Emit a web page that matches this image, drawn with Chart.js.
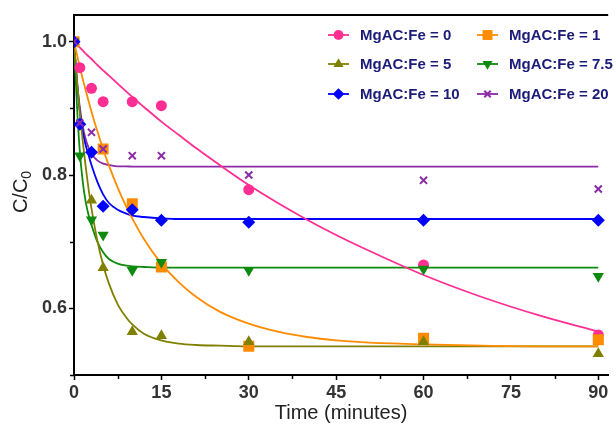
<!DOCTYPE html>
<html>
<head>
<meta charset="utf-8">
<script src="https://cdn.jsdelivr.net/npm/chart.js@4.4.0/dist/chart.umd.min.js"></script>
<style>
  html, body { margin: 0; padding: 0; background: #fff; }
  #wrap { width: 616px; height: 430px; }
</style>
</head>
<body>
<div id="wrap"><canvas id="chart" width="616" height="430"></canvas></div>
<script>
// ─── Measured points (C/C0 vs time) ───────────────────────────────────────────
const time = [0, 1, 3, 5, 10, 15, 30, 60, 90];
const fe0  = [1.0, 0.961, 0.930, 0.910, 0.910, 0.904, 0.778, 0.665, 0.560];
const fe1  = [1.0, null, null, 0.839, 0.757, 0.662, 0.543, 0.555, 0.553];
const fe5  = [1.0, null, 0.762, 0.661, 0.565, 0.559, 0.550, 0.550, 0.532];
const fe75 = [1.0, 0.829, 0.733, 0.710, 0.657, 0.669, 0.657, 0.659, 0.648];
const fe10 = [1.0, 0.876, 0.834, 0.753, 0.748, 0.732, 0.729, 0.732, 0.732];
const fe20 = [1.0, 0.878, 0.864, 0.839, 0.829, 0.829, 0.800, 0.792, 0.779];

// ─── Fitted curves ────────────────────────────────────────────────────────────
const fitTime = [0, 0.5, 1, 1.5, 2, 2.5, 3, 4, 5, 6, 7.5, 9, 10, 12, 15, 18, 21, 25, 30, 35, 40, 45, 50, 60, 70, 80, 90];
const fit0  = [1.000, 0.996, 0.991, 0.987, 0.982, 0.978, 0.974, 0.965, 0.957, 0.949, 0.937, 0.925, 0.917, 0.902, 0.880, 0.860, 0.840, 0.815, 0.785, 0.758, 0.733, 0.710, 0.689, 0.650, 0.617, 0.589, 0.565];
const fit1  = [1.000, 0.981, 0.962, 0.944, 0.927, 0.911, 0.895, 0.866, 0.839, 0.814, 0.781, 0.752, 0.735, 0.704, 0.667, 0.639, 0.617, 0.595, 0.577, 0.565, 0.557, 0.552, 0.549, 0.546, 0.544, 0.543, 0.543];
const fit5  = [1.000, 0.944, 0.894, 0.851, 0.813, 0.779, 0.750, 0.702, 0.665, 0.637, 0.606, 0.586, 0.576, 0.562, 0.552, 0.547, 0.545, 0.544, 0.543, 0.543, 0.543, 0.543, 0.543, 0.543, 0.543, 0.543, 0.543];
const fit75 = [1.000, 0.905, 0.835, 0.790, 0.760, 0.740, 0.725, 0.700, 0.684, 0.674, 0.667, 0.664, 0.663, 0.662, 0.661, 0.661, 0.661, 0.661, 0.661, 0.661, 0.661, 0.661, 0.661, 0.661, 0.661, 0.661, 0.661];
const fit10 = [1.000, 0.940, 0.895, 0.865, 0.845, 0.830, 0.815, 0.790, 0.771, 0.758, 0.748, 0.742, 0.739, 0.737, 0.735, 0.734, 0.734, 0.734, 0.734, 0.734, 0.734, 0.734, 0.734, 0.734, 0.734, 0.734, 0.734];
const fit20 = [1.000, 0.941, 0.901, 0.873, 0.854, 0.841, 0.832, 0.822, 0.817, 0.815, 0.813, 0.813, 0.8125, 0.8125, 0.8125, 0.8125, 0.8125, 0.8125, 0.8125, 0.8125, 0.8125, 0.8125, 0.8125, 0.8125, 0.8125, 0.8125, 0.8125];

// ─── Axes / labels ────────────────────────────────────────────────────────────
const xTicks = [0, 15, 30, 45, 60, 75, 90];
const xMinor = [7.5, 22.5, 37.5, 52.5, 67.5, 82.5];
const yTicks = [0.6, 0.8, 1.0];
const yMinor = [0.5, 0.7, 0.9];
const seriesNames = ['MgAC:Fe = 0', 'MgAC:Fe = 1', 'MgAC:Fe = 5', 'MgAC:Fe = 7.5', 'MgAC:Fe = 10', 'MgAC:Fe = 20'];

// ─── Styles ───────────────────────────────────────────────────────────────────
const styles = [
  { color: '#FF2E93', pointStyle: 'circle',   radius: 5.5, rotation: 0,   bw: 0 },
  { color: '#FF8C00', pointStyle: 'rect',     radius: 7.8, rotation: 0,   bw: 0 },
  { color: '#808000', pointStyle: 'triangle', radius: 6.5, rotation: 0,   bw: 0 },
  { color: '#0E8A0E', pointStyle: 'triangle', radius: 6.5, rotation: 180, bw: 0 },
  { color: '#0000FF', pointStyle: 'rectRot',  radius: 6.5, rotation: 0,   bw: 0 },
  { color: '#8B2BA6', pointStyle: 'crossRot', radius: 5,   rotation: 0,   bw: 2 },
];

const measured = [fe0, fe1, fe5, fe75, fe10, fe20];
const fits = [fit0, fit1, fit5, fit75, fit10, fit20];

const toXY = (xs, ys) => xs.map((x, i) => ({ x, y: ys[i] })).filter(p => p.y !== null);

const datasets = [];
measured.forEach((vals, i) => {
  const s = styles[i];
  datasets.push({
    label: seriesNames[i],
    data: toXY(time, vals),
    showLine: false,
    pointStyle: s.pointStyle,
    pointRadius: s.radius,
    pointRotation: s.rotation,
    pointBackgroundColor: s.color,
    pointBorderColor: s.color,
    pointBorderWidth: s.bw,
    order: 10 - i,
  });
});
fits.forEach((vals, i) => {
  datasets.push({
    label: seriesNames[i] + ' fit',
    data: toXY(fitTime, vals),
    showLine: true,
    borderColor: styles[i].color,
    borderWidth: 1.8,
    pointRadius: 0,
    cubicInterpolationMode: 'monotone',
    fill: false,
    order: 20,
  });
});

// ─── Extras: top frame, minor ticks, y title, legend ──────────────────────────
const extras = {
  id: 'extras',
  afterDraw(chart) {
    const { ctx, chartArea: a, scales: { x, y } } = chart;
    ctx.save();
    ctx.strokeStyle = '#000';
    ctx.lineWidth = 2;
    ctx.beginPath();
    ctx.moveTo(a.left - 1, a.top);
    ctx.lineTo(a.right, a.top);
    ctx.stroke();

    ctx.lineWidth = 1.5;
    ctx.beginPath();
    xMinor.forEach(v => {
      const px = Math.round(x.getPixelForValue(v)) + 0.5;
      ctx.moveTo(px, a.bottom);
      ctx.lineTo(px, a.bottom + 4);
    });
    yMinor.forEach(v => {
      const py = Math.round(y.getPixelForValue(v)) + 0.5;
      ctx.moveTo(a.left, py);
      ctx.lineTo(a.left - 4, py);
    });
    ctx.stroke();

    // y axis title C/C0 with subscript
    ctx.fillStyle = '#222';
    ctx.translate(27, (a.top + a.bottom) / 2 - 3);
    ctx.rotate(-Math.PI / 2);
    ctx.font = '20px "Liberation Sans", Arial, sans-serif';
    const main = 'C/C';
    const w1 = ctx.measureText(main).width;
    ctx.font = '14px "Liberation Sans", Arial, sans-serif';
    const w2 = ctx.measureText('0').width;
    const start = -(w1 + w2) / 2;
    ctx.textBaseline = 'alphabetic';
    ctx.textAlign = 'left';
    ctx.font = '20px "Liberation Sans", Arial, sans-serif';
    ctx.fillText(main, start, 0);
    ctx.font = '14px "Liberation Sans", Arial, sans-serif';
    ctx.fillText('0', start + w1, 4);
    ctx.restore();

    // legend
    ctx.save();
    const cols = [328, 477];
    const rows = [35, 64, 94];
    ctx.font = 'bold 15px "Liberation Sans", Arial, sans-serif';
    ctx.textBaseline = 'middle';
    seriesNames.forEach((name, i) => {
      const s = styles[i];
      const lx = cols[i % 2];
      const ly = rows[Math.floor(i / 2)];
      ctx.strokeStyle = s.color;
      ctx.fillStyle = s.color;
      ctx.lineWidth = 1.8;
      ctx.beginPath();
      ctx.moveTo(lx, ly);
      ctx.lineTo(lx + 21, ly);
      ctx.stroke();
      ctx.lineWidth = s.bw;
      Chart.helpers.drawPoint(ctx, {
        pointStyle: s.pointStyle,
        rotation: s.rotation,
        radius: s.radius * 0.9,
        borderWidth: s.bw,
      }, lx + 10.5, ly);
      ctx.fillStyle = '#1B1B78';
      ctx.fillText(name, lx + 32, ly + 1);
    });
    ctx.restore();
  },
};

new Chart(document.getElementById('chart'), {
  type: 'scatter',
  data: { datasets },
  options: {
    responsive: false,
    devicePixelRatio: 1,
    animation: false,
    layout: { padding: { top: 15, right: 0, bottom: 0, left: 0 } },
    plugins: { legend: { display: false }, tooltip: { enabled: false } },
    scales: {
      x: {
        type: 'linear',
        min: 0,
        max: 91.7,
        afterBuildTicks: s => { s.ticks = xTicks.map(v => ({ value: v })); },
        afterFit: s => { s.height = 55; s.paddingLeft = 0; s.paddingRight = 0; },
        ticks: {
          color: '#333',
          font: { family: '"Liberation Sans", Arial, sans-serif', size: 18, weight: 'bold' },
          padding: 2,
          maxRotation: 0,
          autoSkip: false,
        },
        grid: { drawOnChartArea: false, tickLength: 5, tickColor: '#000', tickWidth: 1.5 },
        border: { color: '#000', width: 2 },
        title: {
          display: true,
          text: 'Time (minutes)',
          color: '#222',
          font: { family: '"Liberation Sans", Arial, sans-serif', size: 20 },
          padding: { top: 0, bottom: 5 },
        },
      },
      y: {
        type: 'linear',
        min: 0.5,
        max: 1.04,
        afterBuildTicks: s => { s.ticks = yTicks.map(v => ({ value: v })); },
        afterFit: s => { s.width = 74; },
        ticks: {
          color: '#333',
          font: { family: '"Liberation Sans", Arial, sans-serif', size: 18, weight: 'bold' },
          padding: 2,
          callback: v => v.toFixed(1),
        },
        grid: { drawOnChartArea: false, tickLength: 5, tickColor: '#000', tickWidth: 1.5 },
        border: { color: '#000', width: 2 },
      },
    },
  },
  plugins: [extras],
});
</script>
</body>
</html>
